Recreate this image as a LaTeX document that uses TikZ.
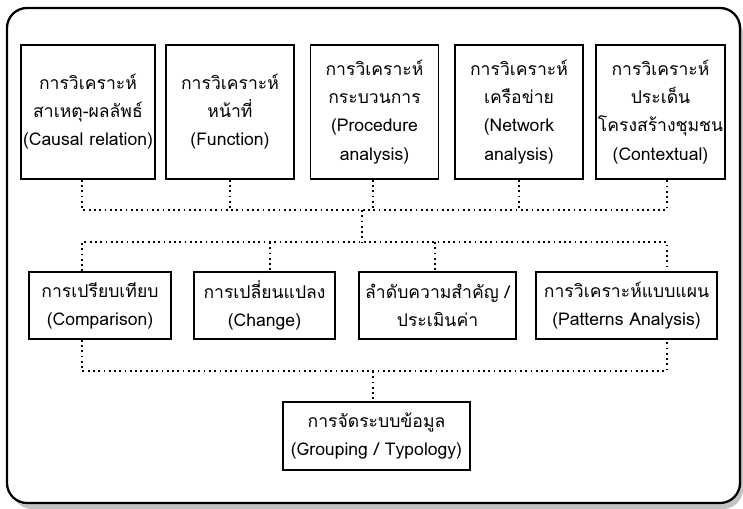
\documentclass[tikz,border=0pt]{standalone}
\usepackage{fontspec}
\setmainfont[Script=Thai]{Loma}
\usetikzlibrary{positioning}
\definecolor{ink}{RGB}{0,0,0}
\definecolor{shadowgray}{RGB}{196,196,196}

\begin{document}
\begin{tikzpicture}[x=0.02cm,y=-0.02cm,
  box/.style={draw=ink,line width=1pt,fill=white,align=center,inner sep=1pt,font=\fontsize{10}{16}\selectfont},
  topbox/.style={box,minimum width=2.56cm,minimum height=2.68cm},
  midbox/.style={box,minimum height=1.34cm},
  link/.style={dotted,line width=1pt,color=ink}]
  \useasboundingbox (0,0) rectangle (743,509);
  % frame and its shadow
  \fill[shadowgray,rounded corners=0.4cm] (12,14) rectangle (743,509);
  \draw[line width=1.3pt,color=ink,fill=white,rounded corners=0.4cm] (7,8) rectangle (740,503);

  % top row
  \node[topbox] (t1) at (88,112) {การวิเคราะห์\\สาเหตุ-ผลลัพธ์\\(Causal relation)};
  \node[topbox] (t2) at (230,112) {การวิเคราะห์\\หน้าที่\\(Function)};
  \node[topbox] (t3) at (374.5,112) {การวิเคราะห์\\กระบวนการ\\(Procedure\\analysis)};
  \node[topbox] (t4) at (519,112) {การวิเคราะห์\\เครือข่าย\\(Network\\analysis)};
  \node[topbox] (t5) at (660.5,112) {การวิเคราะห์\\ประเด็น\\โครงสร้างชุมชน\\(Contextual)};

  % middle row
  \node[midbox,minimum width=2.84cm] (m1) at (100,305.5) {การเปรียบเทียบ\\(Comparison)};
  \node[midbox,minimum width=2.82cm] (m2) at (264.5,305.5) {การเปลี่ยนแปลง\\(Change)};
  \node[midbox,minimum width=3.14cm] (m3) at (437.5,305.5) {ลำดับความสำคัญ /\\ประเมินค่า};
  \node[midbox,minimum width=3.62cm] (m4) at (626.5,305.5) {การวิเคราะห์แบบแผน\\(Patterns Analysis)};

  % bottom
  \node[box,minimum width=3.74cm,minimum height=1.36cm] (b1) at (376.5,436) {การจัดระบบข้อมูล\\(Grouping / Typology)};

  % bus points
  \coordinate (topL) at (82,210);
  \coordinate (topR) at (667,210);
  \coordinate (topC) at (373,210);
  \coordinate (topJ) at (362,210);
  \coordinate (midL) at (82,242);
  \coordinate (midR) at (667,242);
  \coordinate (midJ) at (362,242);
  \coordinate (midB) at (270,242);
  \coordinate (midC) at (435,242);
  \coordinate (lowL) at (82,371);
  \coordinate (lowR) at (667,371);
  \coordinate (lowJ) at (373,371);

  % top connectors
  \draw[link] (t1.south -| topL) -- (topL) -- (topR) -- (t5.south -| topR);
  \draw[link] (t2.south) -- (t2.south |- topL);
  \draw[link] (t3.south -| topC) -- (topC);
  \draw[link] (t4.south) -- (t4.south |- topL);
  \draw[link] (topJ) -- (midJ);

  % middle connectors
  \draw[link] (m1.north -| midL) -- (midL) -- (midR) -- (m4.north -| midR);
  \draw[link] (midB) -- (m2.north -| midB);
  \draw[link] (midC) -- (m3.north -| midC);

  % lower connectors
  \draw[link] (m1.south -| lowL) -- (lowL) -- (lowR) -- (m4.south -| lowR);
  \draw[link] (lowJ) -- (b1.north -| lowJ);
\end{tikzpicture}
\end{document}
